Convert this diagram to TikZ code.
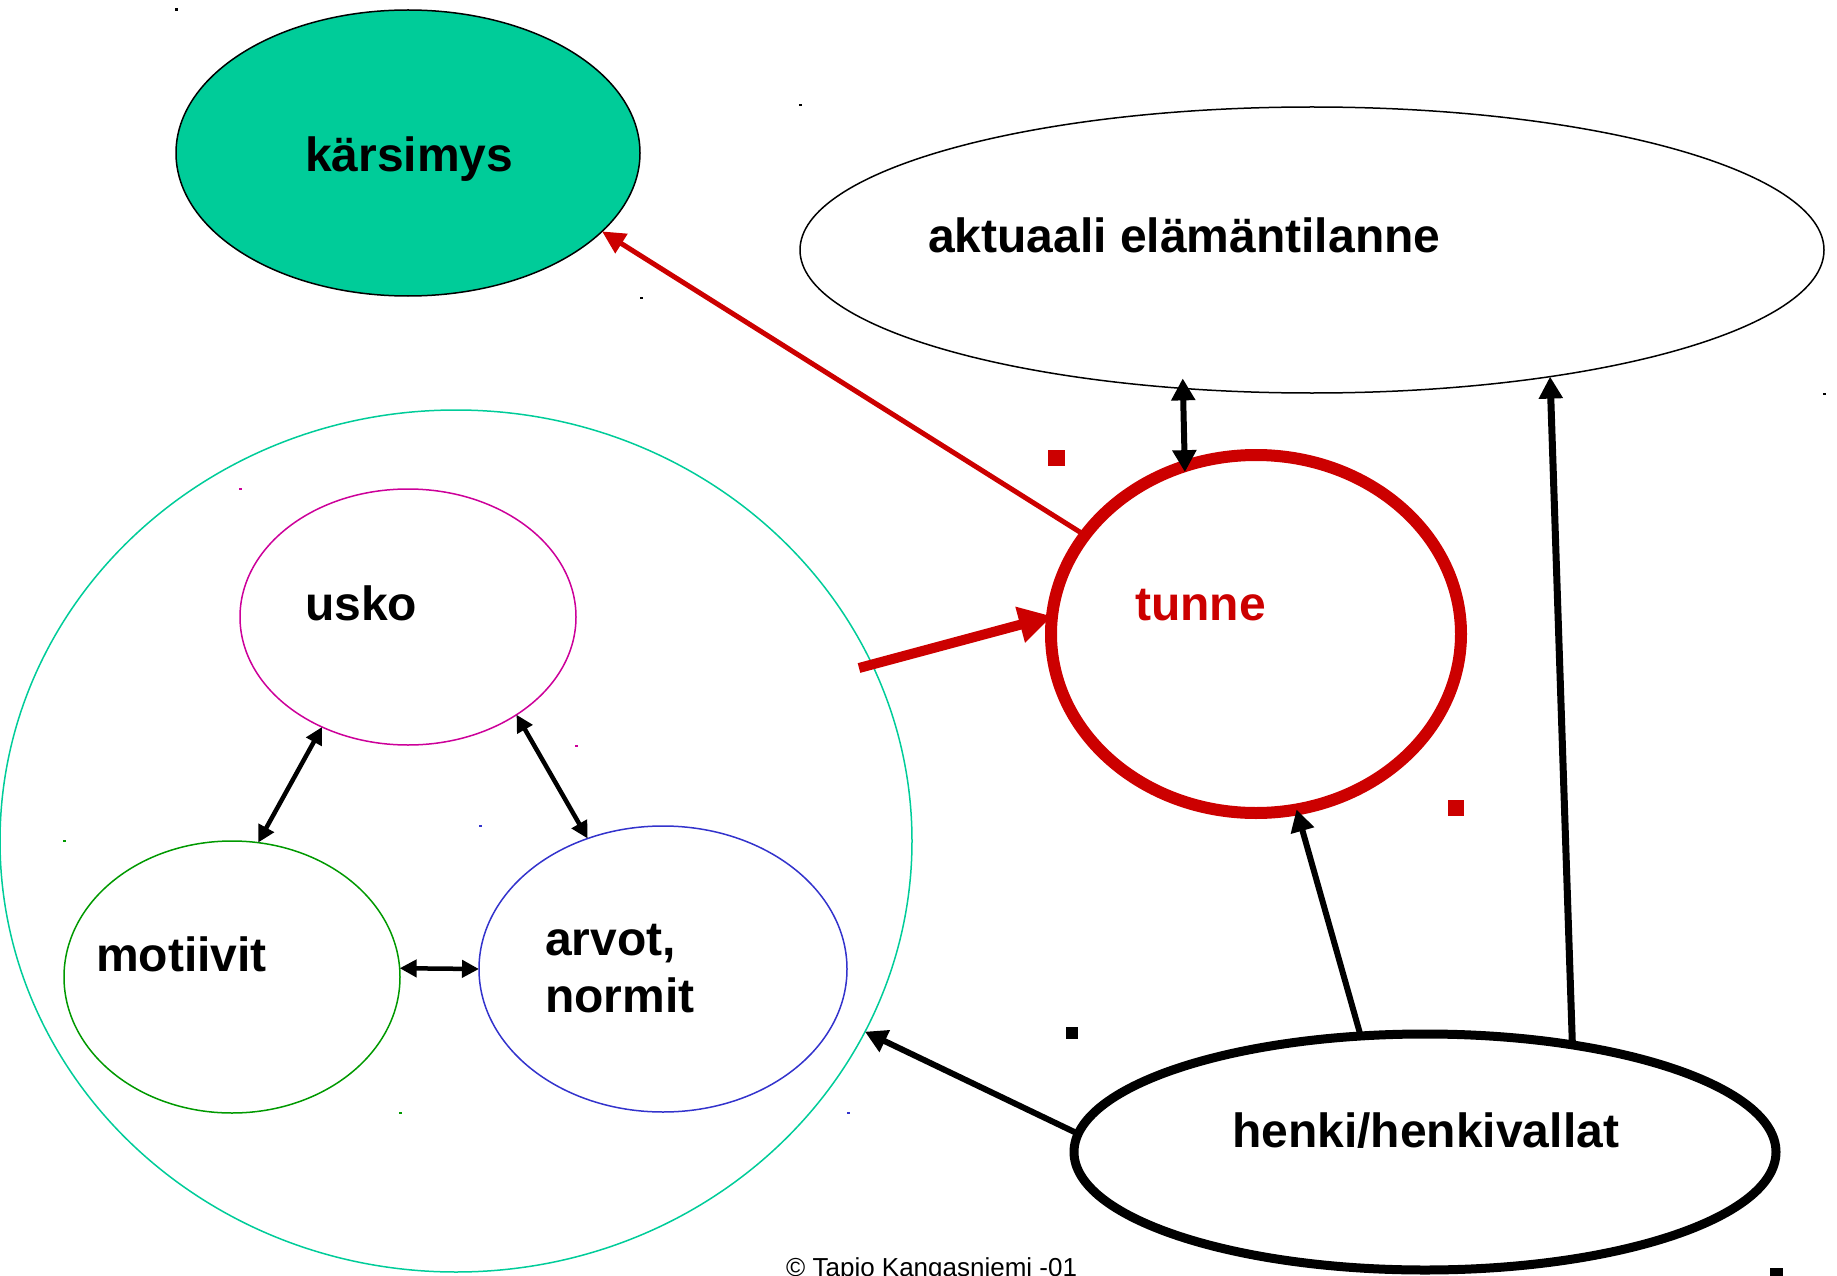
\documentclass[tikz,border=0pt]{standalone}
\usepackage{fontspec}
\setmainfont{Liberation Sans}
\usetikzlibrary{shapes,arrows.meta}
\definecolor{kteal}{RGB}{0,204,153}
\definecolor{kred}{RGB}{204,0,0}
\definecolor{kmagenta}{RGB}{204,0,153}
\definecolor{kgreen}{RGB}{0,153,0}
\definecolor{kblue}{RGB}{51,51,204}

\begin{document}
\begin{tikzpicture}[x=1pt,y=-1pt,
  blob/.style={shape=ellipse,inner sep=0pt,outer sep=0pt},
  lbl/.style={anchor=base west,inner sep=0pt,align=left,font=\fontsize{48}{57}\selectfont\bfseries},
  small/.style={{Triangle[length=17pt,width=17pt]}-{Triangle[length=17pt,width=17pt]},draw=black,line width=4.5pt},
  big/.style={-{Triangle[length=22pt,width=23pt]},draw=black,line width=6pt}]
\useasboundingbox (0,0) rectangle (1837,1276);

\node[blob,draw=black,fill=kteal,line width=1.5pt,minimum width=464pt,minimum height=286pt] (karsimys) at (408,153) {};
\node[blob,draw=black,line width=1.5pt,minimum width=1024pt,minimum height=286pt] (aktuaali) at (1312,250) {};
\node[blob,draw=kteal,line width=1.5pt,minimum width=912pt,minimum height=862pt] (mieli) at (456,841) {};
\node[blob,draw=kmagenta,line width=1.5pt,minimum width=336pt,minimum height=256pt] (usko) at (408,617) {};
\node[blob,draw=kgreen,line width=1.5pt,minimum width=336pt,minimum height=272pt] (motiivit) at (232,977) {};
\node[blob,draw=kblue,line width=1.5pt,minimum width=368pt,minimum height=286pt] (arvot) at (663,969) {};
\node[blob,draw=kred,line width=12pt,minimum width=410pt,minimum height=358pt] (tunne) at (1256,634) {};
\node[blob,draw=black,line width=9pt,minimum width=702pt,minimum height=236pt] (henki) at (1425,1152) {};

\node[lbl] (karsimys-t) at (305,172) {kärsimys};
\node[lbl] (aktuaali-t) at (928,252) {aktuaali elämäntilanne};
\node[lbl] (usko-t) at (305,620) {usko};
\node[lbl] (motiivit-t) at (96,971) {motiivit};
\node[lbl] (arvot-t) at (545,1012) {arvot,\\normit};
\node[lbl,text=kred] (tunne-t) at (1135,620) {tunne};
\node[lbl] (henki-t) at (1232,1147) {henki/henkivallat};
\node[anchor=base west,inner sep=0pt,font=\fontsize{26}{30}\selectfont] (tekija) at (786,1276) {© Tapio Kangasniemi -01};

\coordinate (mieli-ulos) at (859,668);

\draw [-{Triangle[length=23pt,width=22pt]},draw=kred,line width=5pt] (tunne.150) -- (karsimys.338);
\draw [-{Triangle[length=33pt,width=35pt]},draw=kred,line width=10pt] (mieli-ulos) -- (tunne.175);
\draw [{Triangle[length=22pt,width=23pt]}-{Triangle[length=22pt,width=23pt]},draw=black,line width=6pt,shorten <=-10pt,shorten >=-6pt] (aktuaali.227) -- (tunne.113);
\draw [big] (henki.119) -- (tunne.283);
\draw [big,line width=7pt] (henki.36) -- (aktuaali.332);
\draw [big] (henki.177) -- (mieli.335);
\draw [small] (usko.232) -- (motiivit.79);
\draw [small] (usko.318) -- (arvot.120);
\draw [small] (motiivit.3) -- (arvot.180);

\fill[kred] (1048,450) rectangle (1065,466);
\fill[kred] (1448,800) rectangle (1464,816);
\fill[black] (1066,1027) rectangle (1078,1039);
\fill[black] (1770,1268) rectangle (1783,1280);
\fill[black] (175,8) rectangle (178,11);
\fill[black] (799,104) rectangle (802,106);
\fill[black] (640,297) rectangle (643,299);
\fill[black] (1823,393) rectangle (1826,395);
\fill[kmagenta] (239,488) rectangle (242,490);
\fill[kmagenta] (575,745) rectangle (578,747);
\fill[kblue] (479,825) rectangle (482,827);
\fill[kgreen] (63,840) rectangle (66,842);
\fill[kgreen] (399,1112) rectangle (402,1114);
\fill[kblue] (847,1112) rectangle (850,1114);
\end{tikzpicture}
\end{document}
